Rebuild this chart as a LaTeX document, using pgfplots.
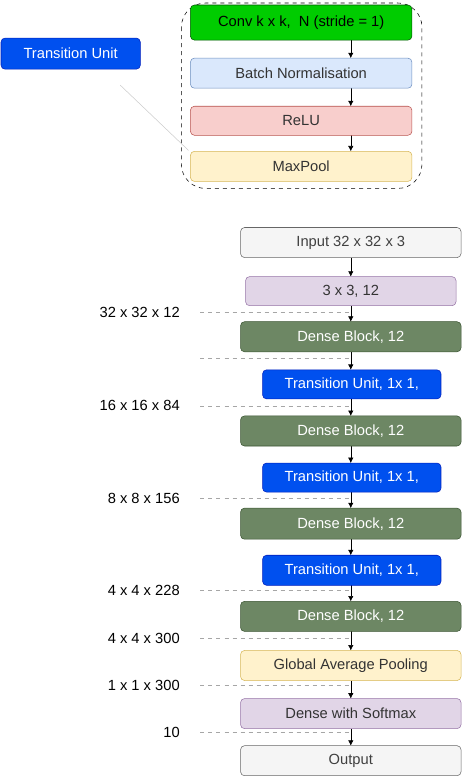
\documentclass[border=0pt]{standalone}
\usepackage{pgfplots}
\pgfplotsset{compat=1.18}
\usetikzlibrary{calc,arrows.meta}
\usepackage{fontspec}
\setmainfont{Liberation Sans}
\definecolor{cgreen}{HTML}{00CC00}
\definecolor{bnfill}{HTML}{DAE8FC}\definecolor{bndraw}{HTML}{6C8EBF}
\definecolor{refill}{HTML}{F8CECC}\definecolor{redraw}{HTML}{B85450}
\definecolor{yefill}{HTML}{FFF2CC}\definecolor{yedraw}{HTML}{D6B656}
\definecolor{tublue}{HTML}{0050EF}\definecolor{tudraw}{HTML}{001DBC}
\definecolor{grfill}{HTML}{F5F5F5}\definecolor{grdraw}{HTML}{666666}
\definecolor{pufill}{HTML}{E1D5E7}\definecolor{pudraw}{HTML}{9673A6}
\definecolor{dbfill}{HTML}{6D8764}\definecolor{dbdraw}{HTML}{3A5431}
\definecolor{dgreen}{HTML}{005700}
\newcommand{\bx}[8]{%
 \draw[fill=#5,draw=#6,rounded corners=3pt] (axis cs:#1,#2) rectangle (axis cs:#3,#4);
 \node[text=#7,font=\fontsize{11pt}{12pt}\selectfont] at ($(axis cs:#1,#2)!0.5!(axis cs:#3,#4)$) {#8};}
\newcommand{\arr}[2]{\draw[-{Latex[length=4pt,width=4pt]}] (axis cs:350,#1) -- (axis cs:350,#2);}
\newcommand{\dl}[2]{\draw[dashed,gray!70] (axis cs:200,#1) -- (axis cs:350,#1);
 \node[anchor=east,font=\fontsize{11pt}{12pt}\selectfont] at (axis cs:184,#1) {#2};}
\begin{document}
\begin{tikzpicture}
\begin{axis}[scale only axis,width=346.5pt,height=582pt,xmin=0,xmax=462,ymin=0,ymax=776,y dir=reverse,axis lines=none,clip=false]
\addplot[draw=none] coordinates {(0,0)};
% top detail box
\draw[dashed,rounded corners=18pt] (axis cs:181,3) rectangle (axis cs:421,188);
\draw[gray!40] (axis cs:120,85) -- (axis cs:188,150);
\arr{40}{58}\arr{88}{106}\arr{135}{151}
\bx{190}{5}{411}{40}{cgreen}{dgreen}{black}{Conv k x k,\ \ N (stride = 1)}
\bx{190}{58}{411}{88}{bnfill}{bndraw}{black!80}{Batch Normalisation}
\bx{190}{106}{411}{135}{refill}{redraw}{black!80}{ReLU}
\bx{190}{151}{411}{181}{yefill}{yedraw}{black!80}{MaxPool}
\bx{1}{38}{140}{69}{tublue}{tudraw}{white}{Transition Unit}
% dashed lines
\dl{312}{32 x 32 x 12}
\draw[dashed,gray!70] (axis cs:200,357) -- (axis cs:350,357);
\dl{405}{16 x 16 x 84}
\dl{497}{8 x 8 x 156}
\dl{589}{4 x 4 x 228}
\dl{637}{4 x 4 x 300}
\dl{684}{1 x 1 x 300}
\dl{731}{10}
% arrows
\arr{257}{276}\arr{305}{321}\arr{351}{369}\arr{398}{415}\arr{445}{462}\arr{491}{507}
\arr{538}{554}\arr{584}{600}\arr{630}{649}\arr{679}{697}\arr{727}{744}
% main boxes
\bx{240}{227}{460}{257}{grfill}{grdraw}{black!75}{Input 32 x 32 x 3}
\bx{245}{276}{455}{305}{pufill}{pudraw}{black!80}{3 x 3, 12}
\bx{240}{321}{460}{351}{dbfill}{dbdraw}{white}{Dense Block, 12}
\bx{262}{369}{440}{398}{tublue}{tudraw}{white}{Transition Unit, 1x 1,}
\bx{240}{415}{460}{445}{dbfill}{dbdraw}{white}{Dense Block, 12}
\bx{262}{462}{440}{491}{tublue}{tudraw}{white}{Transition Unit, 1x 1,}
\bx{240}{507}{460}{538}{dbfill}{dbdraw}{white}{Dense Block, 12}
\bx{262}{554}{440}{584}{tublue}{tudraw}{white}{Transition Unit, 1x 1,}
\bx{240}{600}{460}{630}{dbfill}{dbdraw}{white}{Dense Block, 12}
\bx{240}{649}{460}{679}{yefill}{yedraw}{black!80}{Global Average Pooling}
\bx{240}{697}{460}{727}{pufill}{pudraw}{black!80}{Dense with Softmax}
\bx{240}{744}{460}{774}{grfill}{grdraw}{black!75}{Output}
\end{axis}
\end{tikzpicture}
\end{document}
